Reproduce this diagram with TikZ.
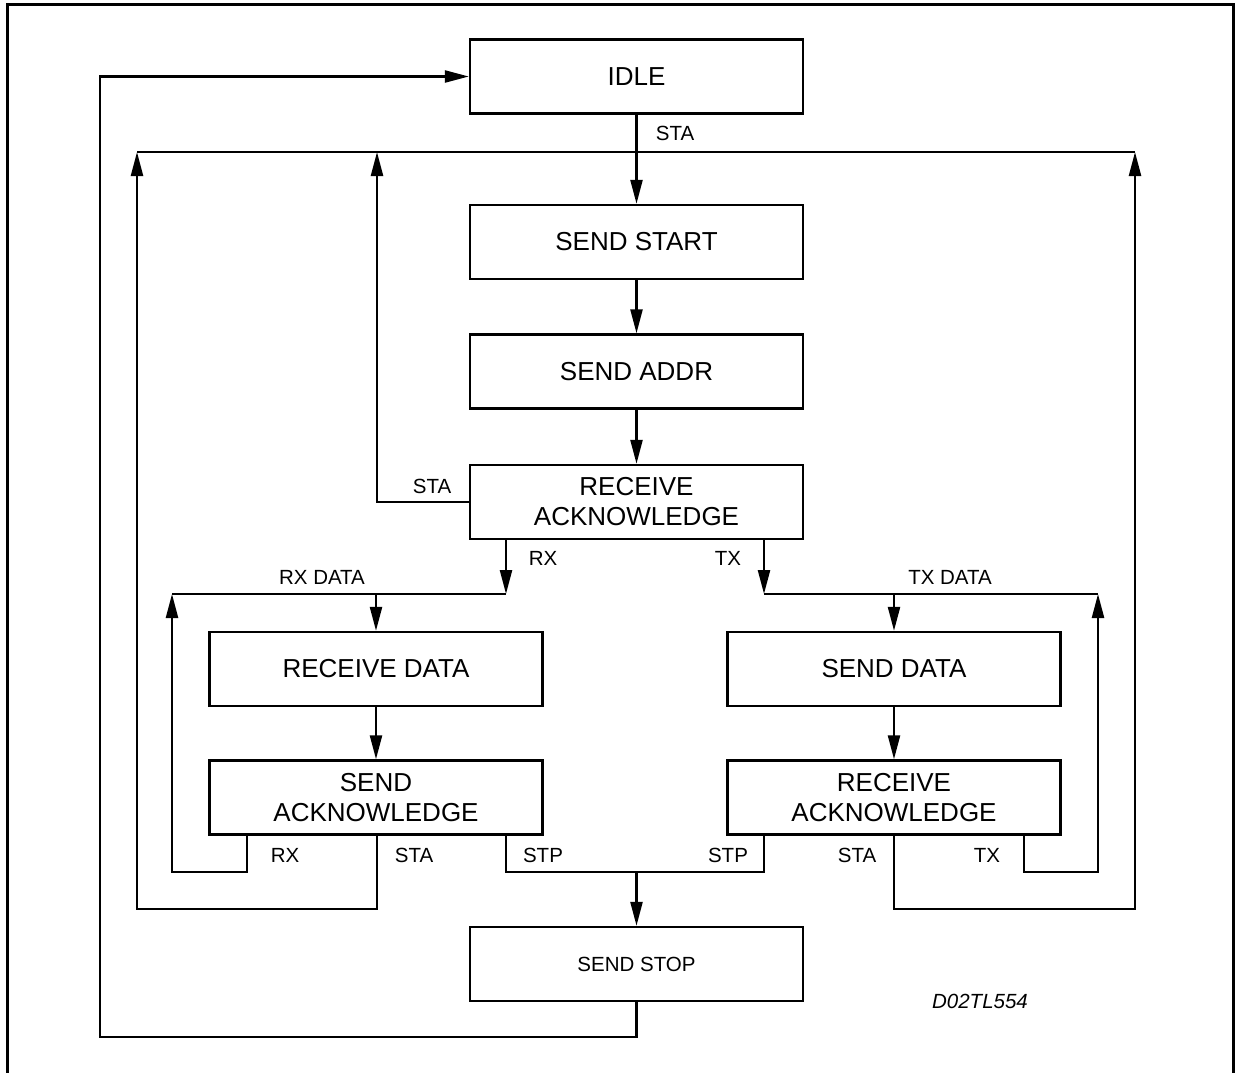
\documentclass[tikz,border=0pt]{standalone}
\usepackage{fontspec}
\setmainfont{Liberation Sans}
\usetikzlibrary{arrows.meta}
\begin{document}
\begin{tikzpicture}[x=1pt,y=-1pt,line width=2.4pt,
  box/.style={draw,line width=2.4pt,minimum width=333pt,minimum height=74pt,inner sep=0pt,align=center,font=\fontsize{26}{30}\selectfont},
  lbl/.style={font=\fontsize{20.5}{24}\selectfont,inner sep=0pt},
  arr/.style={-{Triangle[length=24pt,width=12pt]}}]
\useasboundingbox (0,0) rectangle (1239,1072);
\draw[line width=3pt] (7,1080) -- (7,4) -- (1233,4) -- (1233,1080);

% boxes
\node[box] (idle) at (636.5,76.5) {IDLE};
\node[box] (sstart) at (636.5,242) {SEND START};
\node[box] (saddr) at (636.5,371.5) {SEND ADDR};
\node[box] (rack) at (636.5,502) {RECEIVE\\ACKNOWLEDGE};
\node[box] (rdata) at (376,669) {RECEIVE DATA};
\node[box] (sack) at (376,797.5) {SEND\\ACKNOWLEDGE};
\node[box] (sdata) at (894,669) {SEND DATA};
\node[box] (rack2) at (894,797.5) {RECEIVE\\ACKNOWLEDGE};
\node[box,font=\fontsize{20.5}{24}\selectfont] (sstop) at (636.5,964) {SEND STOP};

% junction coordinates
\coordinate (topL) at (137,152);
\coordinate (topM) at (377,152);
\coordinate (topR) at (1135,152);
\coordinate (rastaL) at (377,502);
\coordinate (rxj) at (506,594);
\coordinate (rxl) at (172,594);
\coordinate (txj) at (764,594);
\coordinate (txr) at (1098,594);
\coordinate (rxb) at (247,872);
\coordinate (stal) at (377,909);
\coordinate (stpl) at (506,872);
\coordinate (stpr) at (764,872);
\coordinate (star) at (894,909);
\coordinate (txb) at (1024,872);
\coordinate (retb) at (636.5,1037);
\coordinate (retl) at (100,1037);

% main column
\draw (topL) -- (topR);
\draw[arr] (idle) -- (sstart);
\draw[arr] (sstart) -- (saddr);
\draw[arr] (saddr) -- (rack);
\draw[arr] (rack.west) -- (rastaL) -- (topM);

% RX branch
\draw[arr] (rack.south -| rxj) -- (rxj);
\draw (rxj) -- (rxl);
\draw[arr] (rdata.north |- rxj) -- (rdata.north);
\draw[arr] (rdata) -- (sack);
\draw[arr] (sack.south -| rxb) -- (rxb) -- (rxb -| rxl) -- (rxl);
\draw[arr] (sack.south -| stal) -- (stal) -- (stal -| topL) -- (topL);

% TX branch
\draw[arr] (rack.south -| txj) -- (txj);
\draw (txj) -- (txr);
\draw[arr] (sdata.north |- txj) -- (sdata.north);
\draw[arr] (sdata) -- (rack2);
\draw[arr] (rack2.south -| txb) -- (txb) -- (txb -| txr) -- (txr);
\draw[arr] (rack2.south -| star) -- (star) -- (star -| topR) -- (topR);

% STP
\draw (sack.south -| stpl) -- (stpl) -- (stpr) -- (rack2.south -| stpr);
\draw[arr] (sstop.north |- stpl) -- (sstop.north);

% return to IDLE
\draw[arr] (sstop.south) -- (retb) -- (retl) -- (retl |- idle.west) -- (idle.west);

% labels
\node[lbl] (l1) at (675,133) {STA};
\node[lbl] (l2) at (432,486) {STA};
\node[lbl] (l3) at (543,558) {RX};
\node[lbl] (l4) at (728,558) {TX};
\node[lbl] (l5) at (322,577) {RX DATA};
\node[lbl] (l6) at (950,577) {TX DATA};
\node[lbl] (l7) at (285,855) {RX};
\node[lbl] (l8) at (414,855) {STA};
\node[lbl] (l9) at (543,855) {STP};
\node[lbl] (l10) at (728,855) {STP};
\node[lbl] (l11) at (857,855) {STA};
\node[lbl] (l12) at (987,855) {TX};
\node[lbl,font=\fontsize{20.5}{24}\selectfont\itshape] (l13) at (980,1001) {D02TL554};
\end{tikzpicture}
\end{document}
